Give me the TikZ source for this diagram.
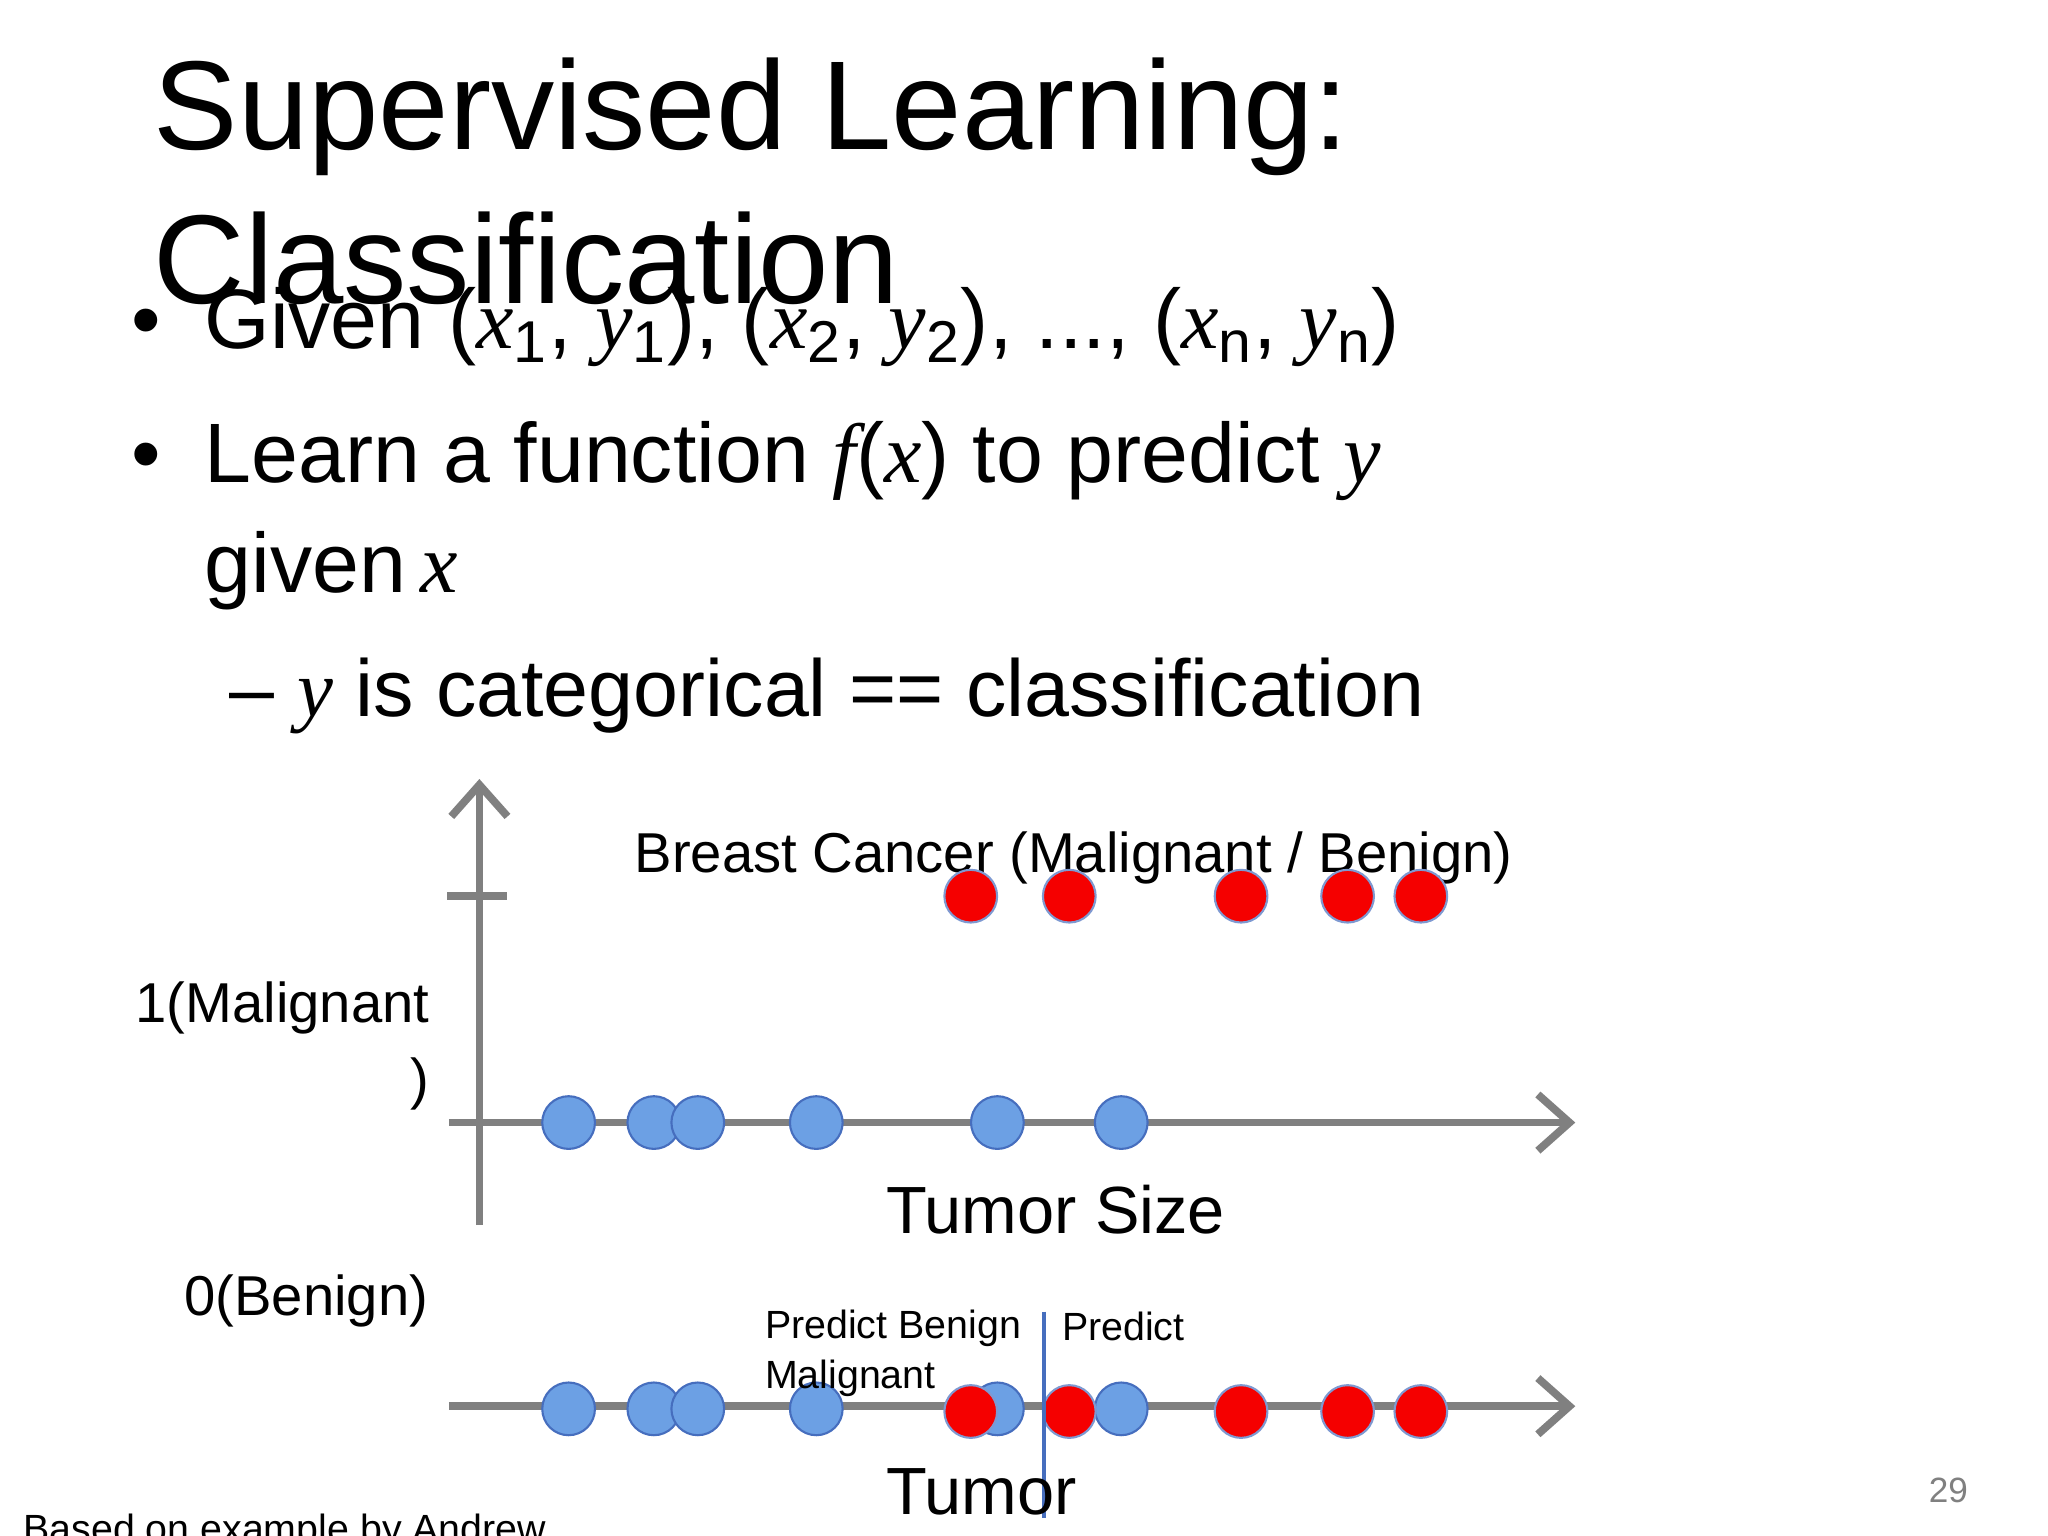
\documentclass[tikz,border=0pt]{standalone}
\usepackage{fontspec}
\setmainfont{Liberation Sans}
\newfontfamily\serifit{Liberation Serif}[UprightFont=*-Italic]
\newcommand{\mi}[1]{{\serifit #1}}
\newcommand{\fsz}[1]{\fontsize{#1pt}{#1pt}\selectfont}
\usetikzlibrary{arrows.meta}
\definecolor{axg}{RGB}{128,128,128}
\definecolor{bdot}{RGB}{108,160,228}
\definecolor{bedge}{RGB}{70,110,190}
\definecolor{rdot}{RGB}{245,0,0}
\tikzset{
 txt/.style={anchor=base west,inner sep=0pt},
 axis/.style={draw=axg,line width=2.2pt},
 arr/.style={axis,-{Straight Barb[length=9pt,width=16pt,line width=2.2pt]}},
 bd/.style={circle,fill=bdot,draw=bedge,line width=0.6pt,minimum size=15pt,inner sep=0pt},
 rd/.style={circle,fill=rdot,draw=bedge!70,line width=0.6pt,minimum size=15pt,inner sep=0pt},
}
\begin{document}
\begin{tikzpicture}[x=0.013316cm,y=-0.013316cm]
\useasboundingbox (0,0) rectangle (1538,1153);
\clip (0,0) rectangle (1538,1153);
\fill[white] (0,0) rectangle (1538,1153);
% title
\node[txt] (t1) at (115,112) {\fsz{36}Supervised Learning:};
\node[txt] (t2) at (115,228) {\fsz{36}Classification};
% bullets
\node[txt] (b1d) at (98,262) {\fsz{24}•};
\node[txt] (b1) at (153,262) {\fsz{24}Given (\mi{x}\textsubscript{1}, \mi{y}\textsubscript{1}), (\mi{x}\textsubscript{2}, \mi{y}\textsubscript{2}), ..., (\mi{x}\textsubscript{n}, \mi{y}\textsubscript{n})};
\node[txt] (b2d) at (98,362) {\fsz{24}•};
\node[txt] (b2) at (153,362) {\fsz{24}Learn a function \mi{f}(\mi{x}) to predict \mi{y}};
\node[txt] (b3) at (153,445) {\fsz{24}given\,\mi{x}};
\node[txt] (b4) at (172,538) {\fsz{23}– \mi{y} is categorical == classification};
% upper axes
\coordinate (vb) at (360,920); \coordinate (vt) at (360,585);
\draw[arr] (vb) -- (vt);
\coordinate (tk1) at (336,673); \coordinate (tk2) at (381,673);
\draw[axis] (tk1) -- (tk2);
\coordinate (h1) at (337,843); \coordinate (h2) at (1183,843);
\draw[arr] (h1) -- (h2);
\coordinate (g1) at (337,1056); \coordinate (g2) at (1183,1056);
\draw[arr] (g1) -- (g2);
% labels
\node[txt] (bc) at (476,655) {\fsz{16}Breast Cancer (Malignant / Benign)};
\node[anchor=base east,inner sep=0pt] (m1) at (323,768) {\fsz{16}1(Malignant};
\node[anchor=base east,inner sep=0pt] (m2) at (323,825) {\fsz{16})};
\node[txt] (ts) at (665,926) {\fsz{19}Tumor Size};
\node[txt] (ben) at (138,988) {\fsz{16}0(Benign)};
% upper dots
\foreach \x/\n in {427/a,491/b,524/c,613/d,749/e,842/f} \node[bd] (u\n) at (\x,843) {};
\foreach \x/\n in {729/a,803/b,932/c,1012/d,1067/e} \node[rd] (r\n) at (\x,673) {};
% lower dots
\foreach \x/\n in {427/a,491/b,524/c,613/d,749/e,842/f} \node[bd] (lb\n) at (\x,1058) {};
\foreach \x/\n in {729/a,803/b,932/c,1012/d,1067/e} \node[rd] (lr\n) at (\x,1060) {};
% threshold
\coordinate (th1) at (784,985); \coordinate (th2) at (784,1140);
\draw[draw=bedge,line width=1.2pt] (th1) -- (th2);
\node[txt] (pb) at (574,1005) {\fsz{11.2}Predict Benign};
\node[txt] (pm) at (574,1043) {\fsz{11.2}Malignant};
\node[txt] (pp) at (797,1007) {\fsz{11.2}Predict};
\node[txt] (tu) at (665,1137) {\fsz{19}Tumor};
\node[txt] (si) at (665,1192) {\fsz{19}Size};
\node[txt] (by) at (17,1158) {\fsz{11.2}Based on example by Andrew};
\node[txt] (ng) at (17,1196) {\fsz{11.2}Ng};
\node[txt,text=axg] (pg) at (1448,1128) {\fsz{10}29};
\end{tikzpicture}
\end{document}
